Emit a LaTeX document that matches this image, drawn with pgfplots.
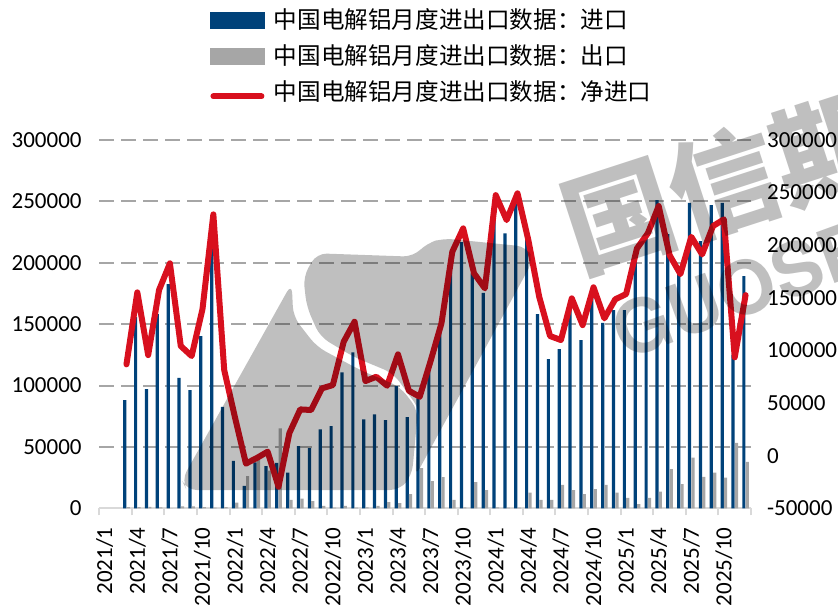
\documentclass[border=0pt]{standalone}
\usepackage{pgfplots}
\usepackage{pgfplotstable}
\pgfplotsset{compat=1.18}
\usepackage{fontspec}
\setmainfont{Carlito}
\newfontfamily\cjk{Noto Sans CJK SC}
\newfontfamily\heros{TeX Gyre Heros}
\definecolor{impblue}{HTML}{00427A}
\definecolor{expgray}{HTML}{A6A6A6}
\definecolor{netred}{HTML}{D8101E}
\definecolor{gridgray}{HTML}{A6A6A6}
\definecolor{axisgray}{HTML}{D9D9D9}

\pgfplotstableread{
x imp exp net
2 88200 1000 86800
3 156000 1000 155200
4 97100 1200 95600
5 158200 800 157400
6 182600 0 182800
7 106300 1500 104200
8 96300 1500 94700
9 140200 1000 139300
10 229500 500 229300
11 82700 1000 81400
12 38700 4600 36000
13 18300 26300 -7500
14 37500 39700 -2200
15 34400 30600 3800
16 37100 65100 -29500
17 29000 6800 21500
18 50700 7800 44000
19 49000 5900 43400
20 64300 1900 64000
21 67000 500 67100
22 110700 1900 108300
23 127000 500 127300
24 72400 800 70900
25 76500 1900 75000
26 71900 5100 66500
27 99500 4300 96300
28 74300 11600 61700
29 89500 32800 56000
30 114000 22200 89900
31 145100 25500 125800
32 192600 6800 193800
33 216800 700 216000
34 191300 21400 173300
35 175500 14900 159000
36 247500 800 247600
37 224000 500 223900
38 248300 500 249300
39 218400 12700 204900
40 158200 6800 151000
41 121500 6800 113700
42 129700 19000 109900
43 164000 14900 149500
44 137000 11600 124100
45 172000 15700 160000
46 151000 19000 130500
47 161400 12700 148600
48 161400 8600 153600
49 205000 3500 197000
50 221100 8600 211300
51 251000 13500 237200
52 223300 32000 190600
53 192000 19800 172600
54 248800 41200 208000
55 217600 25700 191300
56 246900 29000 218200
57 248800 24900 224600
58 125000 53200 93500
59 189100 37900 152600
}\datatable

\pgfplotsset{
  common/.style={
    at={(49.65pt,48.85pt)}, anchor=south west,
    scale only axis, width=325.85pt, height=184.15pt,
    xmin=-0.5, xmax=59.5,
    major tick length=0pt, minor tick length=3.5pt,
    tick align=outside,
    /pgf/number format/assume math mode=true,
    /pgf/number format/fixed, /pgf/number format/1000 sep={},
    scaled y ticks=false,
    tick label style={font=\fontsize{11.5}{13}\selectfont},
  }
}

\begin{document}
\begin{tikzpicture}
\useasboundingbox (0,0) rectangle (419pt,303pt);
\begin{axis}[common,
  ymin=0, ymax=300000,
  axis x line*=bottom, axis y line*=left,
  y axis line style={draw=none},
  x axis line style={draw=axisgray, line width=1pt, -},
  xtick={0,3,...,57},
  xticklabels={2021/1,2021/4,2021/7,2021/10,2022/1,2022/4,2022/7,2022/10,2023/1,2023/4,2023/7,2023/10,2024/1,2024/4,2024/7,2024/10,2025/1,2025/4,2025/7,2025/10},
  minor xtick={-0.5,2.5,...,59.5},
  minor tick style={draw=axisgray, line width=1pt},
  xticklabel style={rotate=90, anchor=east, inner sep=0pt},
  xticklabel shift=9.35pt,
  ytick={0,50000,...,300000},
  yticklabel style={anchor=east, inner sep=0pt},
  yticklabel shift=8.65pt,
  ymajorgrids, grid style={gridgray, dash pattern=on 7.5pt off 3.5pt, line width=1pt},
]
\addplot[ybar, bar width=1.6pt, bar shift=-0.85pt, fill=impblue, draw=none] table[x=x,y=imp]{\datatable};
\addplot[ybar, bar width=1.6pt, bar shift=0.85pt, fill=expgray, draw=none] table[x=x,y=exp]{\datatable};
\end{axis}
\begin{axis}[common,
  ymin=-50000, ymax=300000,
  axis x line=none, axis y line*=right,
  y axis line style={draw=none},
  ytick={-50000,0,...,300000},
  yticklabel style={anchor=west, inner sep=0pt},
  yticklabel shift=7.85pt,
  legend cell align=left,
  legend style={at={(axis description cs:0.1699,1.3503)}, anchor=north west,
    draw=none, fill=none, inner sep=0pt, outer sep=0pt, row sep=6pt,
    nodes={inner sep=0pt, anchor=base west, text height=9pt, text depth=3pt, font=\cjk\fontsize{11.8}{14}\selectfont},
    /tikz/every odd column/.append style={column sep=4.5pt}},
]
\addlegendimage{legend image code/.code={\fill[impblue] (0pt,0.3pt) rectangle (27pt,8.3pt);}}
\addlegendentry{中国电解铝月度进出口数据：进口}
\addlegendimage{legend image code/.code={\fill[expgray] (0pt,0.3pt) rectangle (27pt,8.3pt);}}
\addlegendentry{中国电解铝月度进出口数据：出口}
\addplot[netred, line width=3pt, line join=round, line cap=round,
  legend image code/.code={\draw[netred, line width=3pt, line cap=round] (1.5pt,2.3pt) -- (25.5pt,2.3pt);}]
  table[x=x,y=net]{\datatable};
\addlegendentry{中国电解铝月度进出口数据：净进口}
\end{axis}
% watermark (decorative, semi-transparent)
\fill[black, opacity=0.25, rounded corners=5pt]
  (145.85pt,161.35pt) -- (90.85pt,63pt) -- (93.35pt,58pt) -- (200pt,58pt) -- (206pt,65.5pt)
  -- (209pt,98pt) -- (200pt,109.65pt) -- (180pt,118pt) -- (158.35pt,129.65pt) -- (146.65pt,144.65pt) -- cycle
  (153.35pt,149.65pt) -- (151.65pt,164.65pt) -- (158.35pt,176.35pt) -- (206.65pt,174.65pt)
  -- (213.35pt,181.35pt) -- (221.65pt,183.85pt) -- (263.35pt,179.65pt) -- (266.65pt,173pt)
  -- (207.5pt,64.5pt) -- (210pt,98pt) -- (196.65pt,116.35pt) -- (176.65pt,124.65pt) -- (160pt,134.65pt) -- cycle;
\node[rotate=18, anchor=west, inner sep=0pt, text=black, text opacity=0.25,
  font=\cjk\bfseries\fontsize{55}{55}\selectfont] at (283pt,186.5pt) {国信期货};
\node[rotate=20, anchor=west, inner sep=0pt, text=black, text opacity=0.25,
  font=\heros\bfseries\fontsize{37}{37}\selectfont] at (307.5pt,135.5pt) {GUOSEN};
\end{tikzpicture}
\end{document}
